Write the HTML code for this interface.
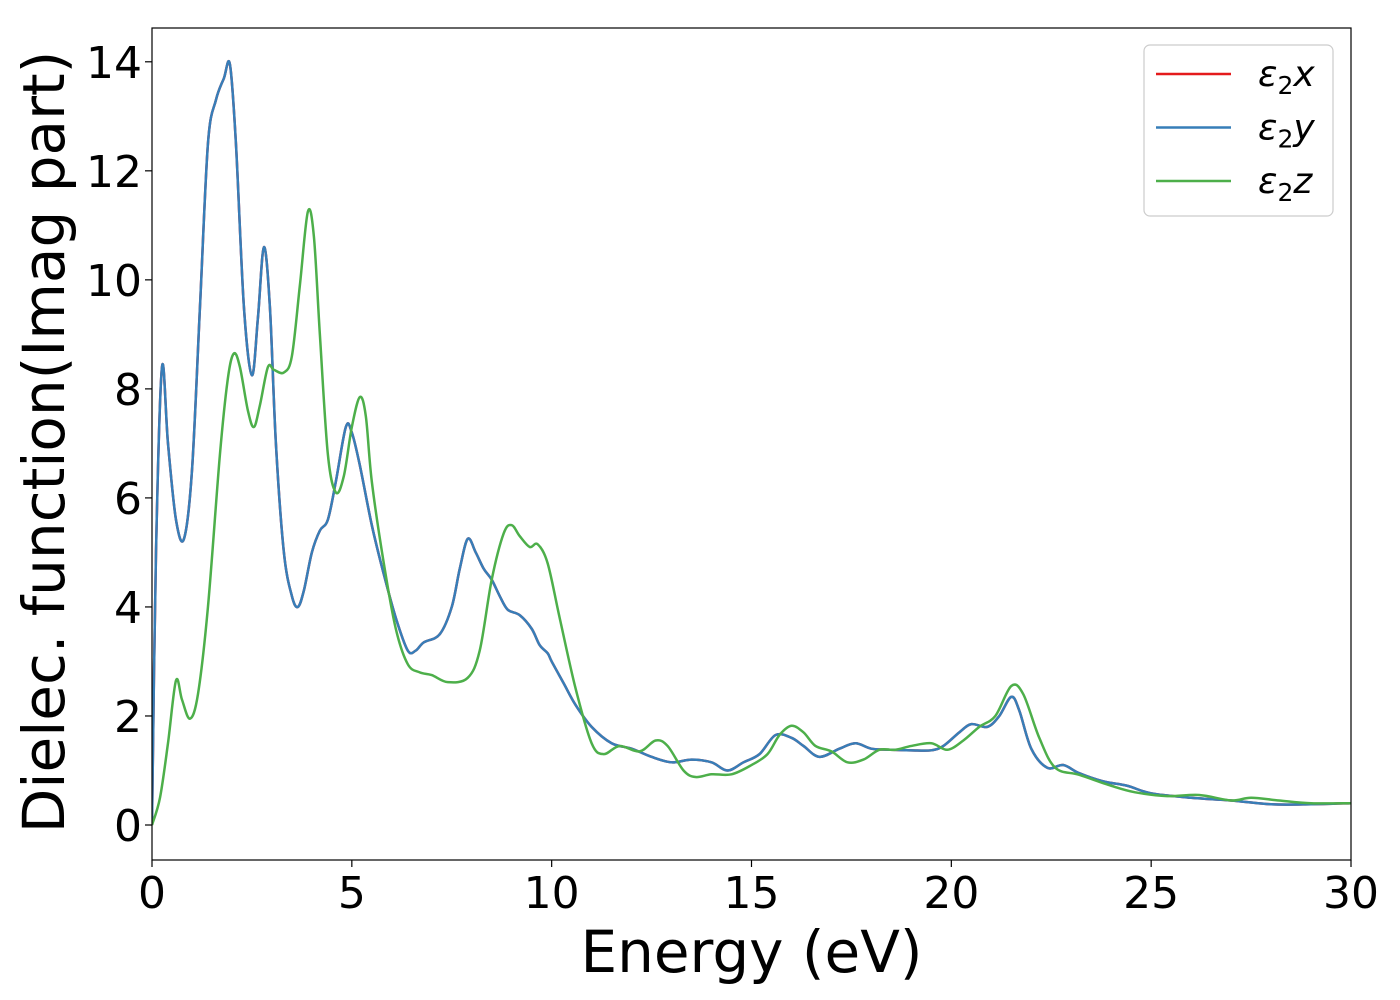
<!DOCTYPE html>
<html><head><meta charset="utf-8"><style>
html,body{margin:0;padding:0;background:#fff;}
svg{display:block;font-family:"DejaVu Sans","Liberation Sans",sans-serif;}
</style></head><body>
<svg id="chart" width="1400" height="1000">
<g id="plot"></g>
</svg>
<script>
const energyXY=[0,0.1,0.25,0.4,0.6,0.8,1.0,1.2,1.4,1.6,1.8,1.95,2.1,2.3,2.5,2.65,2.8,2.95,3.1,3.3,3.5,3.65,3.8,4.0,4.2,4.4,4.6,4.85,5.0,5.2,5.5,5.8,6.1,6.4,6.6,6.8,7.2,7.5,7.7,7.9,8.1,8.3,8.5,8.7,8.9,9.2,9.5,9.7,9.9,10.0,10.3,10.6,11,11.5,12,12.5,13,13.5,14,14.4,14.8,15.2,15.6,16,16.3,16.7,17.2,17.6,18,18.5,19,19.5,19.8,20.2,20.5,20.9,21.2,21.5,21.7,22,22.4,22.8,23.2,23.8,24.4,25,26,27,28,29,30];
const eps2xy=[0,5,8.4,7,5.6,5.25,6.5,9.5,12.5,13.3,13.7,13.95,12.5,9.5,8.25,9.3,10.6,9.5,7,5,4.2,4.0,4.3,5,5.4,5.6,6.3,7.3,7.2,6.6,5.5,4.6,3.8,3.2,3.2,3.35,3.5,4.0,4.7,5.25,5.0,4.7,4.5,4.2,3.95,3.85,3.6,3.3,3.15,3.0,2.6,2.2,1.8,1.5,1.4,1.25,1.15,1.2,1.15,1.0,1.15,1.3,1.65,1.6,1.45,1.25,1.4,1.5,1.4,1.38,1.37,1.37,1.45,1.7,1.85,1.8,2.0,2.35,2.1,1.4,1.05,1.1,0.95,0.8,0.72,0.58,0.5,0.45,0.38,0.38,0.4];
const energyZ=[0,0.2,0.4,0.6,0.75,0.95,1.15,1.4,1.7,1.9,2.05,2.2,2.4,2.55,2.7,2.9,3.05,3.3,3.5,3.7,3.9,4.05,4.2,4.4,4.6,4.8,5.0,5.2,5.35,5.5,5.8,6.1,6.4,6.7,7.0,7.4,7.9,8.2,8.5,8.8,9.0,9.2,9.45,9.65,9.9,10.2,10.6,11,11.3,11.7,12.2,12.6,12.9,13.3,13.6,14,14.5,15.0,15.4,15.7,16,16.3,16.6,17,17.4,17.8,18.2,18.6,19.0,19.5,19.9,20.3,20.7,21.1,21.5,21.8,22.2,22.6,23.2,24,24.6,25.4,26.2,27,27.5,28.2,29,30];
const eps2z=[0,0.5,1.5,2.65,2.3,1.95,2.4,4,6.8,8.2,8.65,8.4,7.6,7.3,7.7,8.4,8.35,8.3,8.6,9.9,11.25,10.8,9,6.8,6.1,6.4,7.3,7.85,7.5,6.3,4.8,3.6,2.95,2.8,2.75,2.62,2.7,3.2,4.5,5.35,5.5,5.3,5.1,5.15,4.8,3.8,2.5,1.5,1.3,1.45,1.35,1.55,1.45,1.0,0.88,0.93,0.93,1.1,1.3,1.65,1.82,1.7,1.45,1.35,1.15,1.2,1.38,1.38,1.45,1.5,1.38,1.55,1.8,2.0,2.55,2.4,1.6,1.05,0.92,0.72,0.6,0.53,0.55,0.45,0.5,0.45,0.4,0.4];
const xTicks=[0,5,10,15,20,25,30];
const yTicks=[0,2,4,6,8,10,12,14];
const legendLabels=["x","y","z"];

const L=152,R=1351,T=28,B=860;
const X0=0,X1=30,Y0=-0.642,Y1=14.62;
const sx=v=>L+(v-X0)/(X1-X0)*(R-L);
const sy=v=>B-(v-Y0)/(Y1-Y0)*(B-T);
const NS="http://www.w3.org/2000/svg";
const svg=document.getElementById('chart');
function mk(tag,attrs,parent){const e=document.createElementNS(NS,tag);for(const k in attrs)e.setAttribute(k,attrs[k]);(parent||svg).appendChild(e);return e;}

function smoothPath(xs,ys){
  const p=xs.map((x,i)=>[sx(x),sy(ys[i])]);
  let d=`M${p[0][0]},${p[0][1]}`;
  for(let i=0;i<p.length-1;i++){
    const p0=p[Math.max(0,i-1)],p1=p[i],p2=p[i+1],p3=p[Math.min(p.length-1,i+2)];
    const c1=[p1[0]+(p2[0]-p0[0])/6,p1[1]+(p2[1]-p0[1])/6];
    const c2=[p2[0]-(p3[0]-p1[0])/6,p2[1]-(p3[1]-p1[1])/6];
    d+=`C${c1[0]},${c1[1]} ${c2[0]},${c2[1]} ${p2[0]},${p2[1]}`;
  }
  return d;
}
const clip=mk('clipPath',{id:'pc'});
mk('rect',{x:L,y:T,width:R-L,height:B-T},clip);

const lx=mk('path',{d:smoothPath(energyXY,eps2xy),fill:'none',stroke:'#e41a1c','stroke-width':2.5,'clip-path':'url(#pc)'});


const ly=mk('path',{d:smoothPath(energyXY,eps2xy),fill:'none',stroke:'#377eb8','stroke-width':2.5,'clip-path':'url(#pc)'});


const lz=mk('path',{d:smoothPath(energyZ,eps2z),fill:'none',stroke:'#4daf4a','stroke-width':2.5,'clip-path':'url(#pc)'});



const frame=mk('rect',{x:L,y:T,width:R-L,height:B-T,fill:'none',stroke:'#000','stroke-width':1.2});



xTicks.forEach(v=>{
  const t=mk('line',{x1:sx(v),x2:sx(v),y1:B,y2:B+7,stroke:'#000','stroke-width':1.2});
  
  
  const tx=mk('text',{x:sx(v),y:B+48,'font-size':44,'text-anchor':'middle'});
  tx.textContent=v;
  
  
});
yTicks.forEach(v=>{
  const t=mk('line',{x1:L-7,x2:L,y1:sy(v),y2:sy(v),stroke:'#000','stroke-width':1.2});
  
  
  const tx=mk('text',{x:L-10,y:sy(v)+16,'font-size':44,'text-anchor':'end'});
  tx.textContent=v;
  
  
});
const xt=mk('text',{x:(L+R)/2,y:972,'font-size':58,'text-anchor':'middle'});
xt.textContent='Energy (eV)';


const yt=mk('text',{x:0,y:0,'font-size':58,'text-anchor':'middle',transform:`translate(64,${(T+B)/2 - 2}) rotate(-90)`});
yt.textContent='Dielec. function(Imag part)';



const lg=mk('g',{});


mk('rect',{x:1144,y:45,width:189,height:171,rx:6,fill:'#fff',stroke:'#ccc','stroke-width':1.2},lg);
const cols=['#e41a1c','#377eb8','#4daf4a'];
legendLabels.forEach((lab,i)=>{
  const yy=74+i*53.5;
  const ln=mk('line',{x1:1156,x2:1231,y1:yy,y2:yy,stroke:cols[i],'stroke-width':2.5},lg);
  
  
  const t=mk('text',{x:1258,y:yy+12,'font-size':36,'font-style':'italic'},lg);
  
  
  const a=document.createElementNS(NS,'tspan');a.textContent='ε';t.appendChild(a);
  const b=document.createElementNS(NS,'tspan');b.textContent='2';b.setAttribute('font-size','25');b.setAttribute('font-style','normal');b.setAttribute('dy','8');t.appendChild(b);
  const c=document.createElementNS(NS,'tspan');c.textContent=lab;c.setAttribute('dy','-8');t.appendChild(c);
});
</script>
</body></html>
